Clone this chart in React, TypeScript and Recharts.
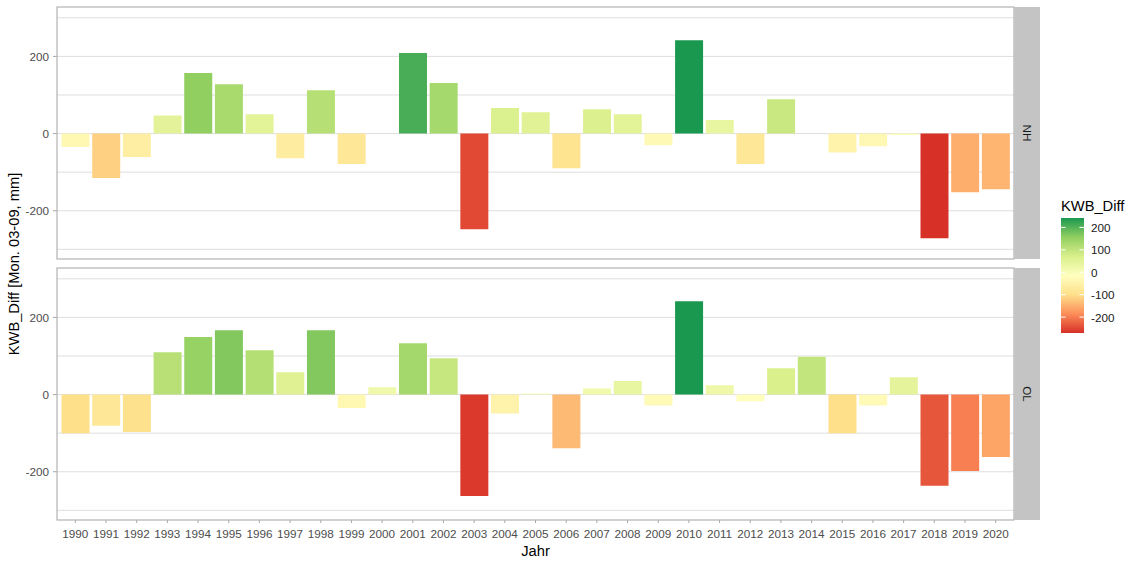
import React from 'react';
import { BarChart, Bar, XAxis, YAxis, CartesianGrid, Cell } from 'recharts';

// Jahre (x-Achse)
const years = [
  '1990', '1991', '1992', '1993', '1994', '1995', '1996', '1997', '1998', '1999',
  '2000', '2001', '2002', '2003', '2004', '2005', '2006', '2007', '2008', '2009',
  '2010', '2011', '2012', '2013', '2014', '2015', '2016', '2017', '2018', '2019', '2020',
];

// KWB_Diff je Station (mm, Monate 03-09)
const nhValues = [
  -35, -115, -61, 47, 157, 128, 50, -64, 112, -79,
  0, 209, 131, -248, 66, 55, -90, 63, 50, -30,
  242, 35, -79, 89, 0, -49, -33, -4, -271, -152, -144,
];
const olValues = [
  -100, -81, -97, 110, 149, 167, 115, 58, 167, -35,
  19, 133, 94, -263, -49, 3, -139, 16, 35, -28,
  242, 24, -17, 68, 98, -100, -28, 45, -236, -198, -162,
];

const panels = ['NH', 'OL'];
const yTicks = [-200, 0, 200];
const gridValues = [-300, -200, -100, 0, 100, 200, 300];
const legendTicks = [200, 100, 0, -100, -200];

// RdYlGn (7 Stufen), rot = niedrig, grün = hoch
const palette = ['#d73027', '#fc8d59', '#fee08b', '#ffffbf', '#d9ef8b', '#91cf60', '#1a9850'];

const allValues = [...nhValues, ...olValues];
const fillMin = Math.min(...allValues);
const fillMax = Math.max(...allValues);

const hexToRgb = (h: string) => [1, 3, 5].map(i => parseInt(h.slice(i, i + 2), 16));

const colorFor = (v: number) => {
  const t = Math.max(0, Math.min(1, (v - fillMin) / (fillMax - fillMin)));
  const seg = t * (palette.length - 1);
  const i = Math.min(palette.length - 2, Math.floor(seg));
  const f = seg - i;
  const a = hexToRgb(palette[i]);
  const b = hexToRgb(palette[i + 1]);
  const c = a.map((x, k) => Math.round(x + (b[k] - x) * f));
  return `rgb(${c[0]},${c[1]},${c[2]})`;
};

const makeData = (vals: number[]) => years.map((y, i) => ({ year: y, value: vals[i] }));
const nhData = makeData(nhValues);
const olData = makeData(olValues);

const FONT = '"Liberation Sans", Arial, sans-serif';
const W = 1141;
const PLOT_LEFT = 57;
const PLOT_RIGHT = 1014;
const PANEL_H = 252;
const TOP1 = 7;
const TOP2 = 268;
const DOMAIN: [number, number] = [-325, 328];

const axisTick = { fontSize: 11.7, fill: '#4d4d4d', fontFamily: FONT };

const Panel = ({ data, showX, height, top }: { data: any[]; showX: boolean; height: number; top: number }) => (
  <BarChart
    width={W}
    height={height}
    data={data}
    margin={{ top, right: W - PLOT_RIGHT, bottom: showX ? 0 : height - top - PANEL_H, left: 0 }}
    barCategoryGap="5%"
  >
    <CartesianGrid vertical={false} horizontalValues={gridValues} stroke="#dedede" strokeWidth={1} />
    <XAxis
      dataKey="year"
      type="category"
      hide={!showX}
      height={height - top - PANEL_H}
      interval={0}
      padding={{ left: 3, right: 3 }}
      axisLine={false}
      tickSize={3}
      tickMargin={7}
      tickLine={{ stroke: '#a6a6a6' }}
      tick={axisTick}
    />
    <YAxis
      type="number"
      domain={DOMAIN}
      allowDataOverflow
      ticks={yTicks}
      width={PLOT_LEFT}
      axisLine={false}
      tickSize={4}
      tickMargin={4}
      tickLine={{ stroke: '#a6a6a6' }}
      tick={axisTick}
    />
    <Bar dataKey="value" isAnimationActive={false}>
      {data.map((d, i) => (
        <Cell key={`c-${i}`} fill={colorFor(d.value)} />
      ))}
    </Bar>
  </BarChart>
);

// Farblegende
const LEG_X = 1061;
const LEG_W = 23;
const LEG_TOP = 218;
const LEG_BOTTOM = 333;
const legY = (v: number) => LEG_BOTTOM - ((v - fillMin) / (fillMax - fillMin)) * (LEG_BOTTOM - LEG_TOP);

const Overlay = () => (
  <svg width={W} height={566} style={{ position: 'absolute', left: 0, top: 0, pointerEvents: 'none' }}>
    <defs>
      <linearGradient id="kwbGrad" x1="0" y1="1" x2="0" y2="0">
        {palette.map((c, i) => (
          <stop key={i} offset={`${(i / (palette.length - 1)) * 100}%`} stopColor={c} />
        ))}
      </linearGradient>
    </defs>

    {[TOP1, TOP2].map((t, i) => (
      <g key={panels[i]}>
        <rect x={PLOT_LEFT} y={t} width={PLOT_RIGHT - PLOT_LEFT} height={PANEL_H} fill="none" stroke="#b3b3b3" strokeWidth={1.2} />
        <rect x={PLOT_RIGHT} y={t} width={26} height={PANEL_H} fill="#c4c4c4" />
        <text
          x={PLOT_RIGHT + 13}
          y={t + PANEL_H / 2}
          transform={`rotate(90 ${PLOT_RIGHT + 13} ${t + PANEL_H / 2})`}
          textAnchor="middle"
          dominantBaseline="central"
          fontSize={11.7}
          fontFamily={FONT}
          fill="#1a1a1a"
        >
          {panels[i]}
        </text>
      </g>
    ))}

    <text
      x={14}
      y={264}
      transform="rotate(-90 14 264)"
      textAnchor="middle"
      dominantBaseline="central"
      fontSize={14.7}
      fontFamily={FONT}
      fill="#000"
    >
      KWB_Diff [Mon. 03-09, mm]
    </text>
    <text x={(PLOT_LEFT + PLOT_RIGHT) / 2} y={555.5} textAnchor="middle" fontSize={14.7} fontFamily={FONT} fill="#000">
      Jahr
    </text>

    <text x={LEG_X} y={211} fontSize={14.7} fontFamily={FONT} fill="#000">KWB_Diff</text>
    <rect x={LEG_X} y={LEG_TOP} width={LEG_W} height={LEG_BOTTOM - LEG_TOP} fill="url(#kwbGrad)" />
    {legendTicks.map(v => (
      <g key={v}>
        <line x1={LEG_X} x2={LEG_X + 4.6} y1={legY(v)} y2={legY(v)} stroke="#fff" strokeWidth={1} />
        <line x1={LEG_X + LEG_W - 4.6} x2={LEG_X + LEG_W} y1={legY(v)} y2={legY(v)} stroke="#fff" strokeWidth={1} />
        <text x={LEG_X + LEG_W + 7} y={legY(v)} dominantBaseline="central" fontSize={11.7} fontFamily={FONT} fill="#1a1a1a">
          {v}
        </text>
      </g>
    ))}
  </svg>
);

export default function App() {
  return (
    <div style={{ position: 'absolute', left: 0, top: 0, width: W, height: 566, background: '#fff', fontFamily: FONT }}>
      <div style={{ position: 'absolute', left: 0, top: 0 }}>
        <Panel data={nhData} showX={false} height={262} top={TOP1} />
      </div>
      <div style={{ position: 'absolute', left: 0, top: 262 }}>
        <Panel data={olData} showX={true} height={304} top={TOP2 - 262} />
      </div>
      <Overlay />
    </div>
  );
}
